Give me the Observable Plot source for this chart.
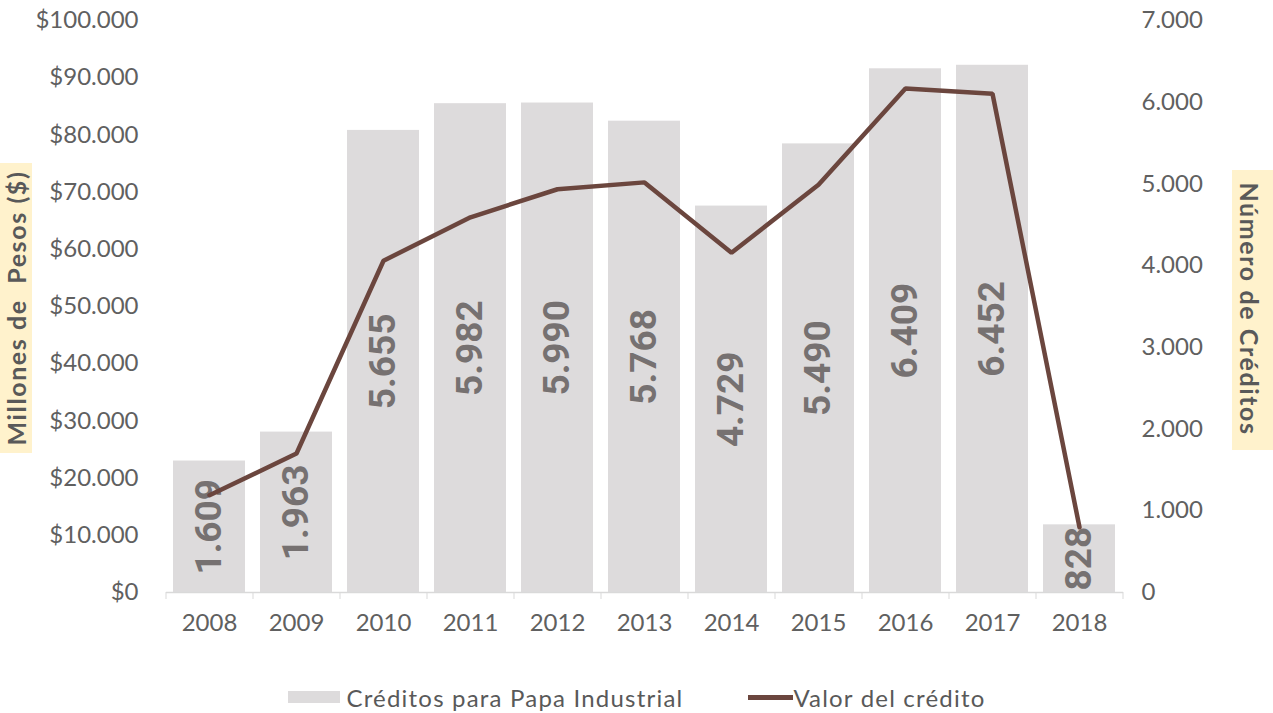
<!DOCTYPE html>
<html><head><meta charset="utf-8">
<script src="https://cdn.jsdelivr.net/npm/d3@7"></script>
<script src="https://cdn.jsdelivr.net/npm/@observablehq/plot@0.6"></script>
<style>
body{margin:0;background:#fff;}
#wrap{position:relative;width:1273px;height:713px;overflow:hidden;}
#legend{position:absolute;left:0;top:680px;width:1273px;height:34px;display:flex;justify-content:center;align-items:center;font-family:Lato,sans-serif;font-size:24px;letter-spacing:1.2px;color:#595959;}
#legend .item{display:flex;align-items:center;}
#legend .sw1{width:52px;height:12px;background:#DDDBDC;margin-right:7px;}
#legend .sw2{width:45px;height:5px;background:#6B463E;margin-left:65px;}
</style></head><body><div id="wrap"></div><script>
const years = ["2008","2009","2010","2011","2012","2013","2014","2015","2016","2017","2018"];
const creditos = [1609,1963,5655,5982,5990,5768,4729,5490,6409,6452,828];
const valor = [17000,24300,58000,65600,70500,71700,59400,71300,88100,87200,11400];
const leftTicks = [0,10000,20000,30000,40000,50000,60000,70000,80000,90000,100000];
const rightTicks = [0,1000,2000,3000,4000,5000,6000,7000];
const leftTitle = "Millones de  Pesos ($)";
const rightTitle = "Número de Créditos";
const legendLabels = ["Créditos para Papa Industrial","Valor del crédito"];

const RATIO = 100000/7000;
const locale = d3.formatLocale({decimal:",",thousands:".",grouping:[3],currency:["$",""]});
const fmtMoney = locale.format("$,.0f");
const fmtNum = locale.format(",.0f");
const data = years.map((y,i)=>({year:y, creditos:creditos[i], valor:valor[i]}));

const W=1273, H=660, mL=166, mR=150, mT=20, mB=68;
const step = (W-mL-mR)/years.length;

const plot = Plot.plot({
  width:W, height:H, marginLeft:mL, marginRight:mR, marginTop:mT, marginBottom:mB,
  style:{fontFamily:"Lato, sans-serif", fontSize:"24px", color:"#595959", background:"transparent"},
  x:{domain:years, paddingInner:0.17, paddingOuter:0.085},
  y:{domain:[0,100000]},
  marks:[
    Plot.barY(data,{x:"year", y:d=>d.creditos*RATIO, fill:"#DDDBDC"}),
    Plot.ruleY([0],{stroke:"#D9D9D9", strokeWidth:1.3}),
    Plot.axisX({tickSize:0, tickPadding:21, label:null, fill:"#606060"}),
    Plot.axisX({tickSize:7, fill:"none", dx:-step/2, stroke:"#D9D9D9", label:null}),
    Plot.axisX([years[years.length-1]], {tickSize:7, fill:"none", dx:step/2, stroke:"#D9D9D9", label:null}),
    Plot.axisY(leftTicks, {anchor:"left", tickSize:0, tickPadding:28, tickFormat:fmtMoney, label:null, fill:"#606060"}),
    Plot.axisY(rightTicks.map(v=>v*RATIO), {anchor:"right", tickSize:0, tickPadding:18, tickFormat:d=>fmtNum(Math.round(d/RATIO)), label:null, fill:"#606060"}),
    Plot.text(data,{x:"year", y:d=>d.creditos*RATIO/2, text:d=>fmtNum(d.creditos), rotate:-90, fontSize:37, fontWeight:700, fill:"#767171", fontFamily:"Roboto, sans-serif"}),
    Plot.line(data,{x:"year", y:"valor", stroke:"#6B463E", strokeWidth:4.5, strokeLinejoin:"miter"})
  ]
});

const svg = d3.select(plot);
svg.append("rect").attr("x",0).attr("y",163).attr("width",32).attr("height",290).attr("fill","#FFF2CC");
svg.append("text").attr("transform","translate(16,308) rotate(-90)")
  .attr("text-anchor","middle").attr("dominant-baseline","central")
  .style("white-space","pre").style("letter-spacing","1.6px").attr("font-family","Lato, sans-serif").attr("font-weight",700)
  .attr("font-size",25).attr("fill","#595959").text(leftTitle);
svg.append("rect").attr("x",1232).attr("y",170).attr("width",41).attr("height",280).attr("fill","#FFF2CC");
svg.append("text").attr("transform","translate(1250,309) rotate(90)")
  .attr("text-anchor","middle").attr("dominant-baseline","central")
  .style("letter-spacing","1.6px").attr("font-family","Lato, sans-serif").attr("font-weight",700)
  .attr("font-size",25).attr("fill","#595959").text(rightTitle);

const wrap = document.getElementById("wrap");
wrap.appendChild(plot);
const legend = document.createElement("div");
legend.id = "legend";
legend.innerHTML = `<div class="item"><div class="sw1"></div><span>${legendLabels[0]}</span></div>`+
  `<div class="item"><div class="sw2"></div><span>${legendLabels[1]}</span></div>`;
wrap.appendChild(legend);
</script></body></html>
